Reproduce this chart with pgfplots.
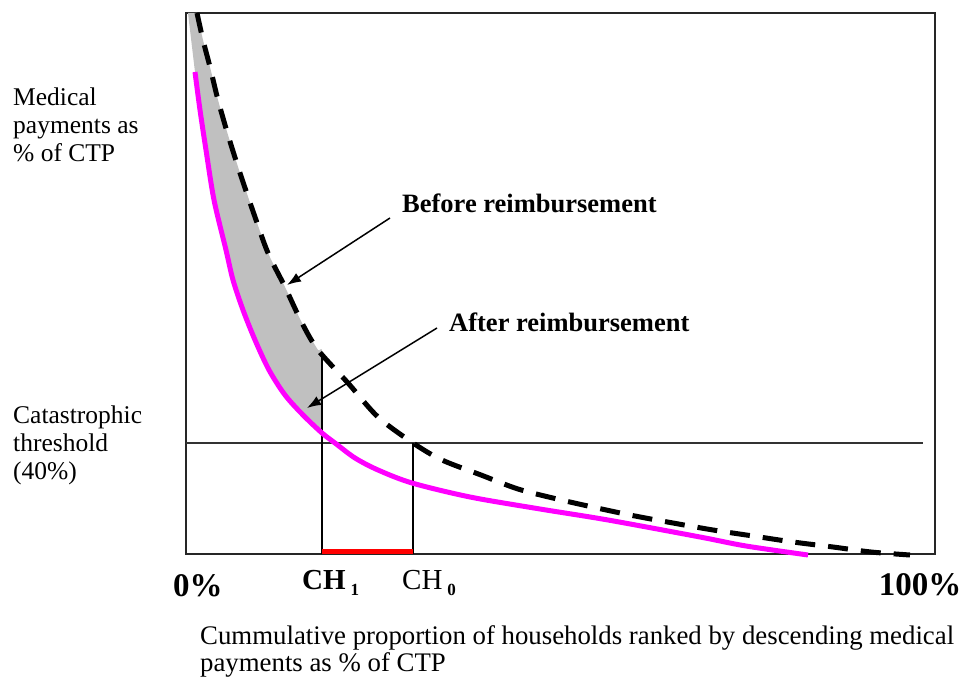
\documentclass[border=0pt]{standalone}
\usepackage{fontspec}
\setmainfont{Liberation Serif}
\usepackage{pgfplots}
\pgfplotsset{compat=1.18}
\usetikzlibrary{arrows.meta}
\definecolor{shade}{RGB}{192,192,192}
\definecolor{mag}{RGB}{255,0,255}
\begin{document}
\begin{tikzpicture}
\begin{axis}[at={(0,0)}, anchor=south west, scale only axis,
  width=749pt, height=541pt, xmin=0, xmax=749, ymin=0, ymax=541,
  xtick=\empty, ytick=\empty, clip=false,
  axis line style={black!85, line width=1.3pt}]
% shaded gap between the two curves
\addplot[fill=shade, draw=none, smooth, tension=0.3] coordinates {
(2,541) (9,482) (14,444) (20,404) (28,354) (40,304) (47,274) (57,244) (69,214)
(83,184) (99,159) (117,139) (136,121) (136,202) (132,204) (116,231) (99,267)
(82,301) (69,337) (54,381) (42,419) (32,454) (24,487) (17,514) (11,541)};
% threshold and CH lines
\addplot[black!80, line width=1.3pt] coordinates {(0,111) (737,111)};
\addplot[black, line width=1.1pt] coordinates {(136,0) (136,202)};
\addplot[black, line width=1.1pt] coordinates {(227,0) (227,111)};
% after reimbursement
\addplot[mag, line width=5pt, smooth, tension=0.5] coordinates {
(9,482) (14,444) (20,404) (28,354) (40,304) (47,274) (57,244) (69,214)
(83,184) (99,159) (117,139) (136,121) (149,111) (169,96) (192,84) (226,71)
(284,57) (354,45) (422,34) (514,17) (560,8) (622,-1)};
% before reimbursement
\addplot[black, line width=5pt, dash pattern=on 20pt off 13pt, smooth, tension=0.5] coordinates {
(11,541) (17,514) (24,487) (32,454) (42,419) (54,381) (69,337) (82,301)
(99,267) (116,231) (132,204) (162,171) (192,137) (227,111) (256,94) (295,79)
(332,65) (371,55) (411,46) (449,38) (487,31) (527,24) (567,18) (607,12)
(647,7) (685,2) (724,-1)};
% red segment CH1-CH0
\addplot[red, line width=5pt] coordinates {(136,3) (227,3)};
% arrows
\draw[black, line width=1.5pt, -{Latex[length=14pt,width=10pt]}] (axis cs:204,336) -- (axis cs:101,269);
\draw[black, line width=1.5pt, -{Latex[length=14pt,width=10pt]}] (axis cs:251,226) -- (axis cs:121,146);
% texts
\node[anchor=west, inner sep=0pt, font=\fontsize{26.5}{28}\selectfont\bfseries] at (axis cs:216,351) {Before reimbursement};
\node[anchor=west, inner sep=0pt, font=\fontsize{26.5}{28}\selectfont\bfseries] at (axis cs:263,232) {After reimbursement};
\node[anchor=west, inner sep=0pt, align=left, font=\fontsize{25.5}{28}\selectfont] at (axis cs:-173,429) {Medical\\payments as\\\% of CTP};
\node[anchor=west, inner sep=0pt, align=left, font=\fontsize{25.5}{28}\selectfont] at (axis cs:-173,109) {Catastrophic\\threshold\\(40\%)};
\node[inner sep=0pt, font=\fontsize{33}{35}\selectfont\bfseries] at (axis cs:12,-32) {0\%};
\node[inner sep=0pt, font=\fontsize{33}{35}\selectfont\bfseries] at (axis cs:734,-31) {100\%};
\node[anchor=west, inner sep=0pt, font=\fontsize{29}{32}\selectfont\bfseries] at (axis cs:116,-29) {CH\,\raisebox{-6pt}{\fontsize{17}{17}\selectfont 1}};
\node[anchor=west, inner sep=0pt, font=\fontsize{29}{32}\selectfont] at (axis cs:216,-29) {CH\,\raisebox{-6pt}{\fontsize{17}{17}\selectfont\bfseries 0}};
\node[anchor=north west, inner sep=0pt, align=left, font=\fontsize{26.8}{27}\selectfont] at (axis cs:14,-71) {Cummulative proportion of households ranked by descending medical\\payments as \% of CTP};
\end{axis}
\path[use as bounding box] (-186pt,-123pt) rectangle (779pt,554pt);
\end{tikzpicture}
\end{document}
